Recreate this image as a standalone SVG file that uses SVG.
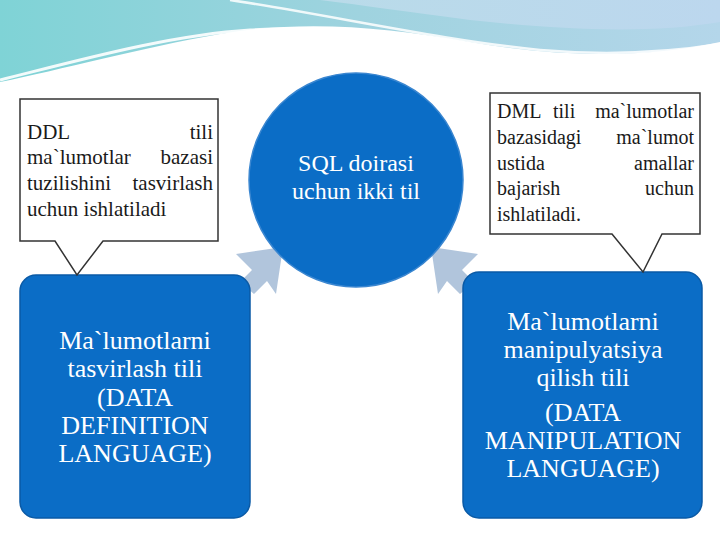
<svg xmlns="http://www.w3.org/2000/svg" width="720" height="540" viewBox="0 0 720 540">
<defs>
<linearGradient id="wave1" x1="0" y1="0" x2="1" y2="0">
<stop offset="0" stop-color="#7fd3d6"/>
<stop offset="0.5" stop-color="#9fd3df"/>
<stop offset="1" stop-color="#b4d6ea"/>
</linearGradient>
<linearGradient id="wave2" x1="0" y1="0" x2="1" y2="0">
<stop offset="0" stop-color="#b9dbe9"/>
<stop offset="1" stop-color="#bcd7ee"/>
</linearGradient>
<style>
.blue{fill:#0b6dc6;stroke:#0a5aa6;stroke-width:1.5}
.btxt{font-size:26px;fill:#ffffff;text-anchor:middle}
.ctxt{font-size:24px;fill:#ffffff;text-anchor:middle}
.call{fill:#ffffff;stroke:#333333;stroke-width:1.5;stroke-linejoin:miter}
.ttxt{font-size:20px;fill:#1a1a1a}
.l21{font-size:21px}
.end{text-anchor:end}
.arr{fill:#a9bfd8;opacity:0.9}
</style>
</defs>
<rect width="720" height="540" fill="#ffffff"/>
<g id="background">
<path d="M0,0 H720 V42 C650,58 560,58 470,42 C380,26 300,20 220,34 C140,48 60,70 0,82 Z" fill="url(#wave1)"/>
<path d="M320,0 H720 V22 C650,34 560,30 470,20 C410,12 360,5 320,0 Z" fill="url(#wave2)"/>
<path d="M0,80 C80,60 170,35 250,30 C300,27 330,30 350,34" fill="none" stroke="#ffffff" stroke-width="3" opacity="0.9"/>
<path d="M230,0 C330,15 440,40 540,50 C610,56 670,52 720,44" fill="none" stroke="#ffffff" stroke-width="2.5" opacity="0.85"/>
<path d="M0,84 C100,60 200,42 300,40 C420,40 520,62 620,64 C670,64 700,58 720,52 V58 C690,68 640,72 600,70 C500,66 420,48 300,48 C200,50 100,70 0,92 Z" fill="#ffffff"/>
</g>
<g id="connectors">
<polygon class="arr" points="283,247 236,254 252,270 240,282 254,294 267,281 276,294"/>
<polygon class="arr" points="431,247 478,254 462,270 474,282 460,294 447,281 438,294"/>
</g>
<g id="circle" font-family="'Liberation Serif', 'Times New Roman', serif">
<circle cx="356" cy="180" r="107" fill="#0b6dc6" stroke="#3a86d0" stroke-width="1.5"/>
<text class="ctxt" x="356" y="171">SQL doirasi</text>
<text class="ctxt" x="356" y="199">uchun ikki til</text>
</g>
<g id="ddl-box" font-family="'Liberation Serif', 'Times New Roman', serif">
<rect class="blue" x="20" y="275" width="230" height="243" rx="16"/>
<text class="btxt" x="135" y="349">Ma`lumotlarni</text>
<text class="btxt" x="135" y="377">tasvirlash tili</text>
<text class="btxt" x="135" y="406">(DATA</text>
<text class="btxt" x="135" y="434">DEFINITION</text>
<text class="btxt" x="135" y="462">LANGUAGE)</text>
</g>
<g id="dml-box" font-family="'Liberation Serif', 'Times New Roman', serif">
<rect class="blue" x="463" y="272" width="239" height="246" rx="16"/>
<text class="btxt" x="583" y="330">Ma`lumotlarni</text>
<text class="btxt" x="583" y="358">manipulyatsiya</text>
<text class="btxt" x="583" y="386">qilish tili</text>
<text class="btxt" x="583" y="421">(DATA</text>
<text class="btxt" x="583" y="449">MANIPULATION</text>
<text class="btxt" x="583" y="477">LANGUAGE)</text>
</g>
<g id="ddl-callout" font-family="'Liberation Serif', 'Times New Roman', serif">
<path class="call" d="M20,99 H218 V241 H103 L77,275 L55,241 H20 Z"/>
<text class="ttxt l21" x="27" y="139">DDL</text>
<text class="ttxt l21 end" x="213" y="139">tili</text>
<text class="ttxt l21" x="27" y="164">ma`lumotlar</text>
<text class="ttxt l21 end" x="213" y="164">bazasi</text>
<text class="ttxt l21" x="27" y="190">tuzilishini</text>
<text class="ttxt l21 end" x="213" y="190">tasvirlash</text>
<text class="ttxt l21" x="27" y="216">uchun ishlatiladi</text>
</g>
<g id="dml-callout" font-family="'Liberation Serif', 'Times New Roman', serif">
<path class="call" d="M490,93 H700 V234 H662 L643,272 L612,234 H490 Z"/>
<text class="ttxt" x="497" y="118">DML</text>
<text class="ttxt" x="553" y="118">tili</text>
<text class="ttxt end" x="694" y="118">ma`lumotlar</text>
<text class="ttxt" x="497" y="144">bazasidagi</text>
<text class="ttxt end" x="694" y="144">ma`lumot</text>
<text class="ttxt" x="497" y="170">ustida</text>
<text class="ttxt end" x="694" y="170">amallar</text>
<text class="ttxt" x="497" y="195">bajarish</text>
<text class="ttxt end" x="694" y="195">uchun</text>
<text class="ttxt" x="497" y="221">ishlatiladi.</text>
</g>
</svg>
